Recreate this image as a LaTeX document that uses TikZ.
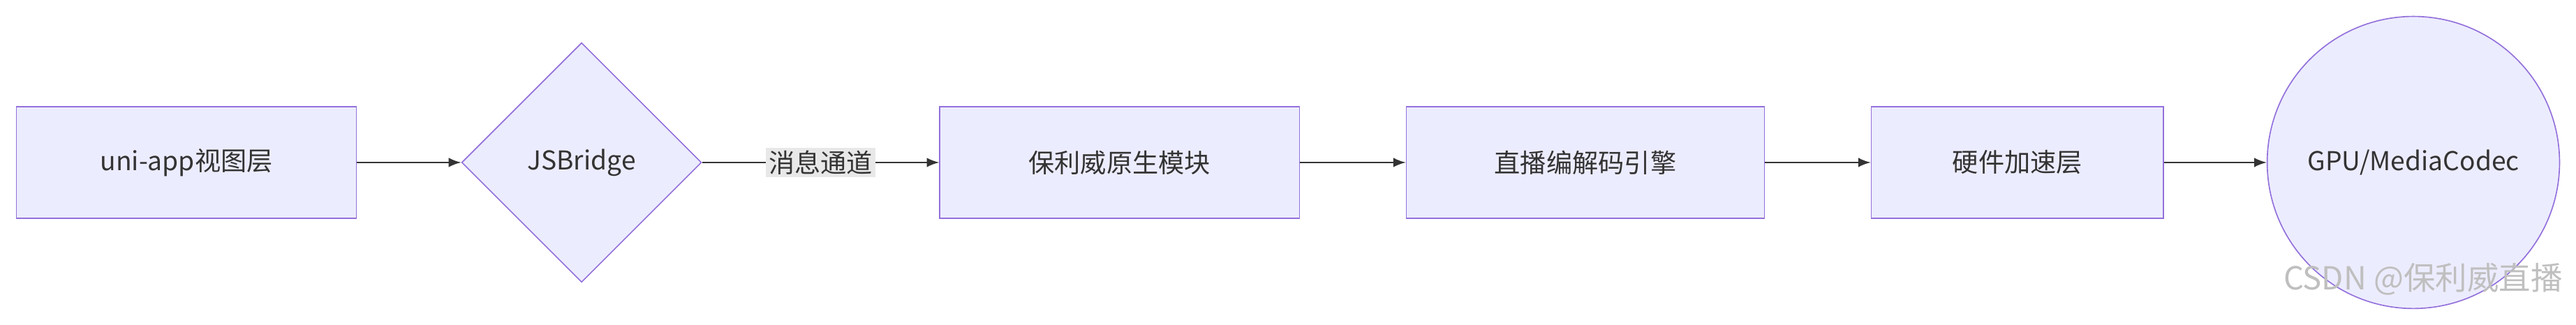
\documentclass[tikz,border=0pt]{standalone}
\usepackage{fontspec}
\setmainfont{Noto Sans CJK SC}
\usetikzlibrary{shapes.geometric}
\definecolor{nodefill}{HTML}{ECECFF}
\definecolor{nodeline}{HTML}{9370DB}
\definecolor{edgeline}{HTML}{333333}
\definecolor{labelbg}{HTML}{E8E8E8}
\begin{document}
\begin{tikzpicture}[x=0.02cm, y=0.02cm, every node/.append style={font=\fontsize{9}{11}\selectfont, text=edgeline}]
\tikzset{
  box/.style={draw=nodeline, fill=nodefill, line width=0.4pt, minimum height=1.36cm},
  edge/.style={draw=edgeline, line width=0.5pt, -latex}
}
\useasboundingbox (0,0) rectangle (1568,198);

% nodes
\node[box, minimum width=4.14cm] (view)   at (113.5,99) {uni-app视图层};
\node[draw=nodeline, fill=nodefill, diamond, aspect=1, minimum width=2.92cm, minimum height=2.92cm, inner sep=0pt] (bridge) at (354,99) {JSBridge};
\node[box, minimum width=4.38cm] (module) at (681.5,99) {保利威原生模块};
\node[box, minimum width=4.36cm] (engine) at (965,99)   {直播编解码引擎};
\node[box, minimum width=3.56cm] (accel)  at (1228,99)  {硬件加速层};
\node[draw=nodeline, fill=nodefill, circle, minimum size=3.56cm, inner sep=0pt] (gpu) at (1469,99) {GPU/MediaCodec};

% connectors
\draw[edge] (view) -- (bridge);
\draw[edge] (bridge) -- node[fill=labelbg, inner sep=1pt] {消息通道} (module);
\draw[edge] (module) -- (engine);
\draw[edge] (engine) -- (accel);
\draw[edge] (accel) -- (gpu);

% watermark
\node[text=black!25, font=\fontsize{11}{13}\selectfont, anchor=east] (mark) at (1566,28) {CSDN @保利威直播};
\end{tikzpicture}
\end{document}
